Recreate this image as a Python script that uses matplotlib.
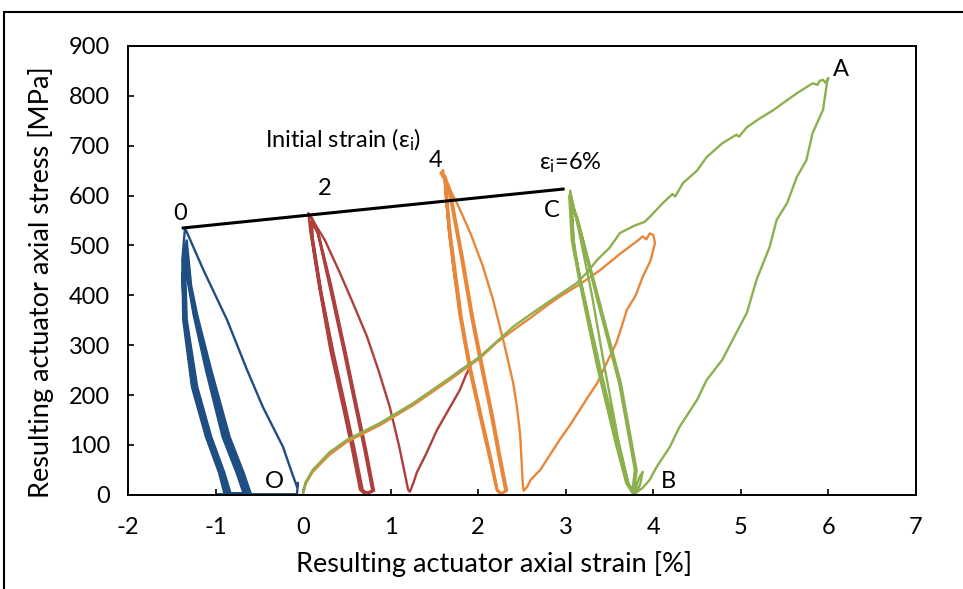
import matplotlib
matplotlib.use('Agg')
import matplotlib.pyplot as plt
from matplotlib.patches import Rectangle

plt.rcParams['font.family'] = ['Lato', 'DejaVu Sans']
plt.rcParams['mathtext.fontset'] = 'custom'
plt.rcParams['mathtext.rm'] = 'Lato'
plt.rcParams['mathtext.it'] = 'Lato'
plt.rcParams['axes.unicode_minus'] = False

# --- data (strain %, stress MPa) ---
# initial strain 0 %
blue_x = [-0.97, -0.07, -0.06, -0.07, -0.12, -0.23, -0.46, -0.64, -0.87, -1.14, -1.35,
          -1.38, -1.37, -1.27, -1.11, -0.96, -0.90,
          -0.60, -0.68, -0.84, -1.05, -1.21, -1.28, -1.33,
          -1.37, -1.35, -1.24, -1.08, -0.93, -0.86,
          -0.64, -0.72, -0.88, -1.08, -1.23, -1.30, -1.34,
          -1.35, -1.33, -1.21, -1.05, -0.90, -0.83,
          -0.68, -0.76, -0.92, -1.11, -1.25, -1.31, -1.35,
          -1.37, -1.36, -1.25, -1.09, -0.94, -0.88,
          -0.62, -0.70, -0.86, -1.07, -1.22, -1.29, -1.34,
          -1.36, -1.34, -1.22, -1.06, -0.91, -0.84,
          -0.66, -0.74, -0.90, -1.10, -1.24, -1.30, -1.35,
          -1.38, -1.36, -1.26, -1.10, -0.95, -0.89]
blue_y = [1, 1, 24, 16, 40, 96, 176, 250, 351, 451, 535,
          471, 351, 216, 116, 44, 3,
          3, 44, 116, 250, 360, 420, 510,
          471, 351, 216, 116, 44, 3,
          3, 44, 116, 250, 360, 420, 495,
          460, 351, 216, 116, 44, 3,
          3, 44, 116, 250, 360, 420, 480,
          471, 351, 216, 116, 44, 3,
          3, 44, 116, 250, 360, 420, 500,
          460, 351, 216, 116, 44, 3,
          3, 44, 116, 250, 360, 420, 470,
          440, 351, 216, 116, 44, 3]

# initial strain 2 %
red_x = [0.00, 0.03, 0.11, 0.30, 0.50, 0.70, 0.88, 1.07, 1.26, 1.45, 1.64, 1.80, 1.93,
         1.86, 1.79, 1.66, 1.53, 1.40, 1.30, 1.26, 1.22, 1.20,
         1.10, 0.99, 0.86, 0.73, 0.58, 0.42, 0.25, 0.06,
         0.08, 0.18, 0.31, 0.45, 0.56, 0.65, 0.70,
         0.79, 0.70, 0.58, 0.46, 0.30, 0.16, 0.10,
         0.10, 0.20, 0.33, 0.47, 0.58, 0.66, 0.72,
         0.81, 0.72, 0.60, 0.48, 0.32, 0.18, 0.11,
         0.09, 0.19, 0.32, 0.46, 0.57, 0.67, 0.73,
         0.80, 0.71, 0.59, 0.47, 0.31, 0.17, 0.10,
         0.11, 0.21, 0.34, 0.48, 0.59, 0.68, 0.74]
red_y = [4, 25, 48, 82, 108, 126, 142, 162, 182, 205, 228, 250, 265,
         240, 210, 170, 130, 80, 45, 24, 6, 10,
         95, 176, 250, 317, 380, 445, 510, 565,
         531, 420, 291, 180, 90, 10, 2,
         8, 90, 190, 291, 420, 531, 555,
         520, 410, 291, 180, 90, 12, 2,
         8, 90, 190, 291, 420, 520, 545,
         525, 415, 291, 180, 90, 10, 2,
         8, 90, 190, 291, 420, 525, 548,
         515, 405, 291, 180, 90, 10, 2]

# initial strain 4 %
orange_x = [0.00, 0.03, 0.11, 0.30, 0.50, 0.70, 0.88, 1.07, 1.26, 1.45, 1.64, 1.83, 2.02, 2.21,
            2.40, 2.60, 2.79, 2.93, 3.16, 3.39, 3.62, 3.81, 3.88, 3.92, 3.96, 4.00,
            4.02, 3.97, 3.88, 3.80, 3.70, 3.58, 3.47, 3.36, 3.25, 3.16, 3.05, 2.93, 2.82,
            2.71, 2.60, 2.56, 2.52,
            2.51, 2.48, 2.44, 2.40, 2.30, 2.17, 2.05, 1.91, 1.77, 1.64, 1.57, 1.60,
            1.62, 1.66, 1.72, 1.79, 1.90, 2.02, 2.12, 2.21, 2.25,
            2.33, 2.25, 2.17, 2.06, 1.94, 1.82, 1.68, 1.62,
            1.64, 1.68, 1.74, 1.81, 1.92, 2.04, 2.14, 2.22, 2.27,
            2.31, 2.23, 2.15, 2.04, 1.92, 1.80, 1.67, 1.62,
            1.63, 1.67, 1.73, 1.80, 1.91, 2.03, 2.13, 2.22]
orange_y = [3, 22, 46, 80, 106, 124, 140, 160, 180, 203, 226, 250, 274, 305,
            330, 355, 380, 397, 422, 450, 483, 508, 518, 512, 524, 521,
            505, 470, 437, 400, 371, 305, 265, 224, 195, 170, 140, 110, 80,
            50, 30, 16, 8,
            20, 120, 180, 224, 300, 391, 460, 525, 580, 625, 645, 651,
            620, 540, 450, 357, 250, 156, 80, 10, 2,
            8, 80, 156, 250, 357, 480, 611, 640,
            610, 530, 450, 357, 250, 156, 80, 10, 2,
            8, 80, 156, 250, 357, 480, 605, 635,
            600, 520, 440, 357, 250, 156, 80, 8]

# initial strain 6 %
green_x = [0.00, 0.03, 0.11, 0.30, 0.50, 0.70, 0.88, 1.07, 1.26, 1.45, 1.64, 1.83, 2.02, 2.21,
           2.40, 2.60, 2.79, 2.96, 3.13, 3.25, 3.36, 3.50, 3.62, 3.79, 3.90, 3.96,
           4.11, 4.22, 4.25, 4.34, 4.50, 4.61, 4.79, 4.95, 4.98, 5.07, 5.22, 5.37,
           5.52, 5.64, 5.82, 5.88, 5.90, 5.94, 5.97, 6.00,
           5.99, 5.94, 5.82, 5.75, 5.64, 5.53, 5.41, 5.33, 5.18, 5.07, 4.95, 4.79,
           4.61, 4.50, 4.30, 4.19, 4.04, 3.96, 3.88, 3.80, 3.78,
           3.84, 3.88, 3.85, 3.80,
           3.72, 3.60, 3.45, 3.30, 3.15, 3.05,
           3.08, 3.17, 3.37, 3.58, 3.70, 3.77,
           3.80, 3.62, 3.37, 3.12, 3.04,
           3.07, 3.16, 3.36, 3.57, 3.69, 3.76,
           3.79, 3.61, 3.36, 3.13, 3.06,
           3.09, 3.18, 3.38, 3.59, 3.71, 3.78,
           3.81, 3.63, 3.38, 3.14, 3.07,
           3.10, 3.19, 3.39, 3.60, 3.71, 3.77]
green_y = [5, 25, 50, 85, 110, 128, 144, 164, 184, 207, 230, 253, 277, 307,
           337, 362, 385, 405, 425, 447, 471, 495, 525, 540, 547, 557,
           585, 603, 598, 625, 650, 677, 705, 722, 718, 737, 755, 771,
           790, 805, 825, 822, 830, 832, 826, 835,
           832, 772, 725, 671, 637, 585, 551, 497, 431, 365, 325, 271,
           230, 190, 136, 96, 56, 30, 14, 4, 2,
           35, 46, 20, 4,
           20, 110, 250, 400, 530, 610,
           520, 425, 257, 104, 24, 4,
           50, 224, 391, 557, 600,
           510, 425, 257, 104, 24, 4,
           50, 224, 391, 557, 590,
           500, 420, 257, 104, 24, 4,
           50, 224, 391, 550, 575,
           490, 415, 257, 104, 24, 4]

# line joining the first peaks
initial_x = [-1.37, 2.97]
initial_y = [535, 613]

fig = plt.figure(figsize=(9.63, 5.89), dpi=100)
ax = fig.add_axes([0.133, 0.160, 0.818, 0.762])

lw = 1.7
ax.plot(blue_x, blue_y, color='#1F4E82', lw=lw)
ax.plot(red_x, red_y, color='#AD3F3C', lw=lw)
ax.plot(orange_x, orange_y, color='#E8873A', lw=lw)
ax.plot(green_x, green_y, color='#8DB04F', lw=lw)
ax.plot(initial_x, initial_y, color='black', lw=2.2)

ax.set_xlim(-2, 7)
ax.set_ylim(0, 900)
ax.set_xticks(range(-2, 8))
ax.set_yticks(range(0, 901, 100))
ax.tick_params(direction='in', length=4, width=1.2, labelsize=17)
ax.tick_params(axis='x', pad=16)
ax.tick_params(axis='y', pad=13)
for s in ax.spines.values():
    s.set_linewidth(1.4)

ax.set_xlabel('Resulting actuator axial strain [%]', fontsize=19.5)
ax.set_ylabel('Resulting actuator axial stress [MPa]', fontsize=19.5)
ax.xaxis.set_label_coords(0.465, -0.125)
ax.yaxis.set_label_coords(-0.094, 0.474)

# point labels
fs = 17
ax.text(0.46, 711, r'Initial strain (ε$_{\mathrm{i}}$)', fontsize=fs, ha='center', va='center')
ax.text(-1.40, 565, '0', fontsize=fs, ha='center', va='center')
ax.text(0.25, 615, '2', fontsize=fs, ha='center', va='center')
ax.text(1.51, 671, '4', fontsize=fs, ha='center', va='center')
ax.text(3.05, 665, r'ε$_{\mathrm{i}}$=6%', fontsize=fs, ha='center', va='center')
ax.text(2.84, 571, 'C', fontsize=fs, ha='center', va='center')
ax.text(6.14, 852, 'A', fontsize=fs, ha='center', va='center')
ax.text(4.17, 26, 'B', fontsize=fs, ha='center', va='center')
ax.text(-0.33, 26, 'O', fontsize=fs, ha='center', va='center')

# outer chart border
fig.patches.append(Rectangle((0.0042, -0.1), 1.2, 0.9796 + 0.1, transform=fig.transFigure,
                             fill=False, lw=1.5, edgecolor='black'))

fig.savefig('out.png', dpi=100)
